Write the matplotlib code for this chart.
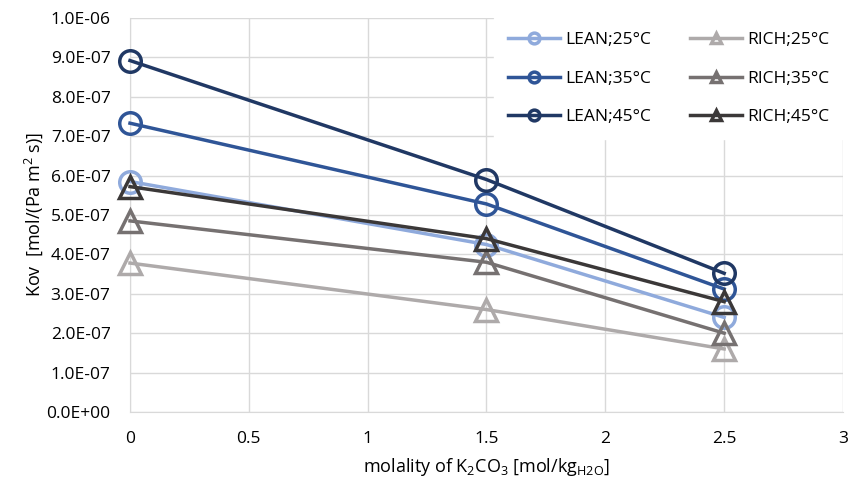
import matplotlib
matplotlib.use("Agg")
import matplotlib.pyplot as plt
from matplotlib.ticker import FuncFormatter, MultipleLocator

molality = [0, 1.5, 2.5]
lean_25 = [5.85e-7, 4.25e-7, 2.4e-7]
lean_35 = [7.33e-7, 5.28e-7, 3.12e-7]
lean_45 = [8.92e-7, 5.9e-7, 3.52e-7]
rich_25 = [3.78e-7, 2.6e-7, 1.6e-7]
rich_35 = [4.85e-7, 3.8e-7, 2.0e-7]
rich_45 = [5.72e-7, 4.4e-7, 2.8e-7]

series = [
    ("LEAN;25°C", lean_25, "#8FAADC", "o"),
    ("LEAN;35°C", lean_35, "#2F5597", "o"),
    ("LEAN;45°C", lean_45, "#203864", "o"),
    ("RICH;25°C", rich_25, "#AEAAAA", "^"),
    ("RICH;35°C", rich_35, "#767171", "^"),
    ("RICH;45°C", rich_45, "#3B3838", "^"),
]

plt.rcParams['font.family'] = ['Open Sans', 'DejaVu Sans']
plt.rcParams['mathtext.default'] = 'regular'

fig = plt.figure(figsize=(8.48, 4.84), dpi=100)
ax = fig.add_axes([0.1533, 0.1488, 0.8408, 0.814])

for name, vals, col, mk in series:
    ax.plot(molality, vals, color=col, lw=2.5, marker=mk, markersize=15.5,
            markerfacecolor='none', markeredgecolor=col, markeredgewidth=2.5,
            label=name, zorder=3, clip_on=False)

ax.set_xlim(0, 3)
ax.set_ylim(0, 1.0e-6)
ax.xaxis.set_major_locator(MultipleLocator(0.5))
ax.yaxis.set_major_locator(MultipleLocator(1e-7))
ax.xaxis.set_major_formatter(FuncFormatter(lambda v, p: f"{v:g}"))
ax.yaxis.set_major_formatter(FuncFormatter(lambda v, p: f"{v:.1E}"))
ax.grid(True, color="#D9D9D9", lw=1)
ax.set_axisbelow(True)
for s in ['top', 'right']:
    ax.spines[s].set_visible(False)
for s in ['left', 'bottom']:
    ax.spines[s].set_color("#D9D9D9")
ax.tick_params(axis='y', length=0, labelsize=12.5, colors="#000000", pad=14)
ax.tick_params(axis='x', length=0, labelsize=12.5, colors="#000000", pad=14)
ax.set_xlabel("molality of K$_2$CO$_3$ [mol/kg$_{H2O}$]", fontsize=13, labelpad=6)
ax.set_ylabel("Kov  [mol/(Pa m$^2$ s)]", fontsize=13, labelpad=1)

leg = ax.legend(ncol=2, loc='upper right', fontsize=12.5, markerscale=0.5,
                frameon=True, fancybox=False, edgecolor='white', framealpha=1,
                handlelength=3.0, columnspacing=2.2, labelspacing=1.3,
                borderpad=0.8, handletextpad=0.3, borderaxespad=0)

fig.savefig("out.png", dpi=100)
